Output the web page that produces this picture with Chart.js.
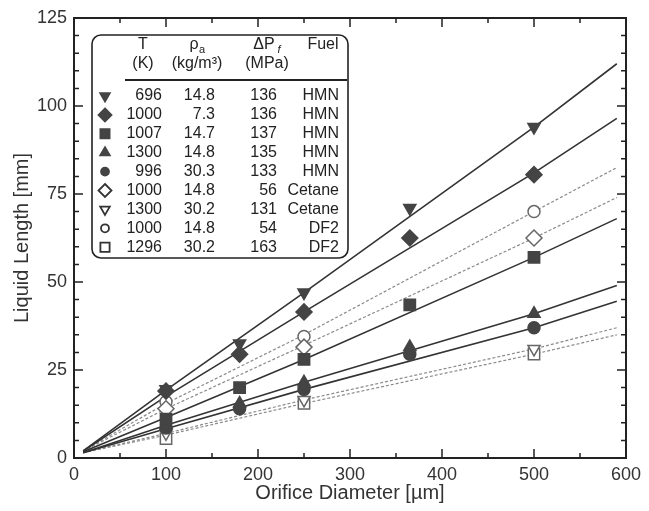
<!DOCTYPE html>
<html>
<head>
<meta charset="utf-8">
<script src="https://cdn.jsdelivr.net/npm/chart.js@4"></script>
<style>
  html, body { margin: 0; padding: 0; background: #fff; }
  #wrap { width: 649px; height: 511px; }
</style>
</head>
<body>
<div id="wrap"><canvas id="liquidChart"></canvas></div>
<script>
const FONT = '"Liberation Sans", Arial, Helvetica, sans-serif';

// orifice diameters [um]
const xMeas = [100, 180, 250, 365, 500];
const xOpen = [100, 250, 500];
const xFit = [10, 100, 250, 500, 590];

// table columns
const tempK = ['696', '1000', '1007', '1300', '996', '1000', '1300', '1000', '1296'];
const rhoA = ['14.8', '7.3', '14.7', '14.8', '30.3', '14.8', '30.2', '14.8', '30.2'];
const deltaP = ['136', '136', '137', '135', '133', '56', '131', '54', '163'];
const fuel = ['HMN', 'HMN', 'HMN', 'HMN', 'HMN', 'Cetane', 'Cetane', 'DF2', 'DF2'];

// liquid length [mm], measured
const hmn696 = [19.5, 32.5, 47, 71, 94];
const hmn1000 = [19, 29.5, 41.5, 62.5, 80.5];
const hmn1007 = [11, 20, 28, 43.5, 57];
const hmn1300 = [9.5, 15.5, 21.5, 31.5, 41];
const hmn996 = [8.5, 14, 19.5, 29.5, 37];
const cet1000 = [14, 31.5, 62.5];
const cet1300 = [7, 16.5, 31];
const df1000 = [16, 34.5, 70];
const df1296 = [5.5, 15.5, 29.5];

// fitted lines [mm] at xFit
const fit696 = [2, 19.3, 47, 94, 112];
const fit1000 = [2, 17.5, 41.5, 81, 96.5];
const fit1007 = [1.8, 11.5, 28, 57, 68];
const fit1300 = [1.5, 9.3, 21.5, 41, 49];
const fit996 = [1.5, 8.3, 19.5, 37, 44.5];
const fitCet1000 = [2, 14, 32, 62.5, 74];
const fitCet1300 = [1.5, 7, 16.5, 31, 37];
const fitDf1000 = [2, 15.5, 35, 70, 82.5];
const fitDf1296 = [1.5, 6.5, 15.5, 29.5, 35];

const DARK = '#333';
const LIGHT = '#8a8a8a';

const series = [
  { xs: xMeas, ys: hmn696, fit: fit696, style: 'triangle', rot: 180, filled: true, r: 7 },
  { xs: xMeas, ys: hmn1000, fit: fit1000, style: 'rectRot', rot: 0, filled: true, r: 8 },
  { xs: xMeas, ys: hmn1007, fit: fit1007, style: 'rect', rot: 0, filled: true, r: 8 },
  { xs: xMeas, ys: hmn1300, fit: fit1300, style: 'triangle', rot: 0, filled: true, r: 7 },
  { xs: xMeas, ys: hmn996, fit: fit996, style: 'circle', rot: 0, filled: true, r: 6 },
  { xs: xOpen, ys: cet1000, fit: fitCet1000, style: 'rectRot', rot: 0, filled: false, r: 8 },
  { xs: xOpen, ys: cet1300, fit: fitCet1300, style: 'triangle', rot: 180, filled: false, r: 7 },
  { xs: xOpen, ys: df1000, fit: fitDf1000, style: 'circle', rot: 0, filled: false, r: 6 },
  { xs: xOpen, ys: df1296, fit: fitDf1296, style: 'rect', rot: 0, filled: false, r: 8 }
];

const datasets = [];
series.forEach((s, i) => {
  datasets.push({
    label: 'fit' + i,
    data: xFit.map((x, j) => ({ x: x, y: s.fit[j] })),
    showLine: true,
    pointRadius: 0,
    borderColor: s.filled ? DARK : LIGHT,
    borderWidth: s.filled ? 1.6 : 1.2,
    borderDash: s.filled ? [] : [3, 2],
    order: 2
  });
  datasets.push({
    label: tempK[i] + ' ' + fuel[i],
    data: s.xs.map((x, j) => ({ x: x, y: s.ys[j] })),
    showLine: false,
    pointStyle: s.style,
    rotation: s.rot,
    pointRadius: s.r,
    pointBackgroundColor: s.filled ? '#444' : '#fff',
    pointBorderColor: s.filled ? '#444' : '#666',
    pointBorderWidth: 1.5,
    order: 1
  });
});

function marker(ctx, s, x, y) {
  ctx.save();
  ctx.fillStyle = s.filled ? '#444' : '#fff';
  ctx.strokeStyle = s.filled ? '#444' : '#333';
  ctx.lineWidth = 1.8;
  const r = s.r - 1.5;
  ctx.beginPath();
  if (s.style === 'circle') {
    ctx.arc(x, y, r - 0.5, 0, Math.PI * 2);
  } else if (s.style === 'rect') {
    const h = r * Math.SQRT1_2;
    ctx.rect(x - h, y - h, 2 * h, 2 * h);
  } else if (s.style === 'rectRot') {
    ctx.moveTo(x, y - r); ctx.lineTo(x + r, y); ctx.lineTo(x, y + r); ctx.lineTo(x - r, y);
    ctx.closePath();
  } else {
    const d = s.rot ? -1 : 1;
    ctx.moveTo(x, y - d * r);
    ctx.lineTo(x + r * 0.87, y + d * r * 0.5);
    ctx.lineTo(x - r * 0.87, y + d * r * 0.5);
    ctx.closePath();
  }
  ctx.fill();
  ctx.stroke();
  ctx.restore();
}

const framePlugin = {
  id: 'frame',
  afterDatasetsDraw(chart) {
    const { ctx, chartArea: a, scales: { x, y } } = chart;
    ctx.save();
    ctx.strokeStyle = '#222';
    ctx.lineWidth = 2;
    ctx.strokeRect(a.left, a.top, a.right - a.left, a.bottom - a.top);
    ctx.lineWidth = 1.5;
    ctx.beginPath();
    for (let v = 0; v <= 600; v += 50) {
      const px = x.getPixelForValue(v), len = v % 100 ? 5 : 9;
      ctx.moveTo(px, a.bottom); ctx.lineTo(px, a.bottom - len);
      ctx.moveTo(px, a.top); ctx.lineTo(px, a.top + len);
    }
    for (let v = 0; v <= 125; v += 5) {
      const py = y.getPixelForValue(v), len = v % 25 ? 5 : 9;
      ctx.moveTo(a.left, py); ctx.lineTo(a.left + len, py);
      ctx.moveTo(a.right, py); ctx.lineTo(a.right - len, py);
    }
    ctx.stroke();

    // table legend
    const bx = 92, by = 35, bw = 256, bh = 223, br = 9;
    ctx.fillStyle = '#fff';
    ctx.strokeStyle = '#222';
    ctx.lineWidth = 1.6;
    ctx.beginPath();
    ctx.roundRect(bx, by, bw, bh, br);
    ctx.fill();
    ctx.stroke();

    ctx.fillStyle = '#222';
    ctx.textBaseline = 'middle';
    ctx.font = '16px ' + FONT;
    ctx.textAlign = 'center';
    ctx.fillText('T', 143, 45);
    ctx.fillText('(K)', 143, 64);
    ctx.fillText('\u03C1', 194, 45);
    ctx.fillText('(kg/m\u00B3)', 197, 64);
    ctx.fillText('\u0394P', 264, 45);
    ctx.fillText('(MPa)', 267, 64);
    ctx.fillText('Fuel', 323, 45);
    ctx.font = '11px ' + FONT;
    ctx.fillText('a', 202, 50);
    ctx.font = 'italic 11px ' + FONT;
    ctx.fillText('f', 279, 50);

    ctx.lineWidth = 2;
    ctx.beginPath();
    ctx.moveTo(125, 80); ctx.lineTo(347, 80);
    ctx.stroke();

    ctx.font = '16px ' + FONT;
    ctx.textAlign = 'right';
    series.forEach((s, i) => {
      const ry = 96 + i * 18.9;
      marker(ctx, s, 105, ry);
      ctx.fillStyle = '#222';
      ctx.fillText(tempK[i], 162, ry);
      ctx.fillText(rhoA[i], 215, ry);
      ctx.fillText(deltaP[i], 277, ry);
      ctx.fillText(fuel[i], 339, ry);
    });
    ctx.restore();
  }
};

new Chart(document.getElementById('liquidChart'), {
  type: 'scatter',
  data: { datasets: datasets },
  options: {
    responsive: true,
    maintainAspectRatio: false,
    animation: false,
    layout: { padding: { top: 18, right: 23, left: 0, bottom: 0 } },
    plugins: { legend: { display: false }, tooltip: { enabled: false } },
    scales: {
      x: {
        type: 'linear', min: 0, max: 600,
        afterFit(s) { s.height = 53; },
        grid: { display: false, drawTicks: false },
        border: { display: false },
        ticks: { stepSize: 100, padding: 6, color: '#333', font: { family: FONT, size: 18 } },
        title: { display: true, text: 'Orifice Diameter [\u00B5m]', color: '#333',
          font: { family: FONT, size: 20 }, padding: { top: 0, bottom: 6 } }
      },
      y: {
        min: 0, max: 125,
        afterFit(s) { s.width = 74; },
        grid: { display: false, drawTicks: false },
        border: { display: false },
        ticks: { stepSize: 25, padding: 7, color: '#333', font: { family: FONT, size: 18 } },
        title: { display: true, text: 'Liquid Length [mm]', color: '#333',
          font: { family: FONT, size: 20 }, padding: { top: 10, bottom: 0 } }
      }
    }
  },
  plugins: [framePlugin]
});
</script>
</body>
</html>
